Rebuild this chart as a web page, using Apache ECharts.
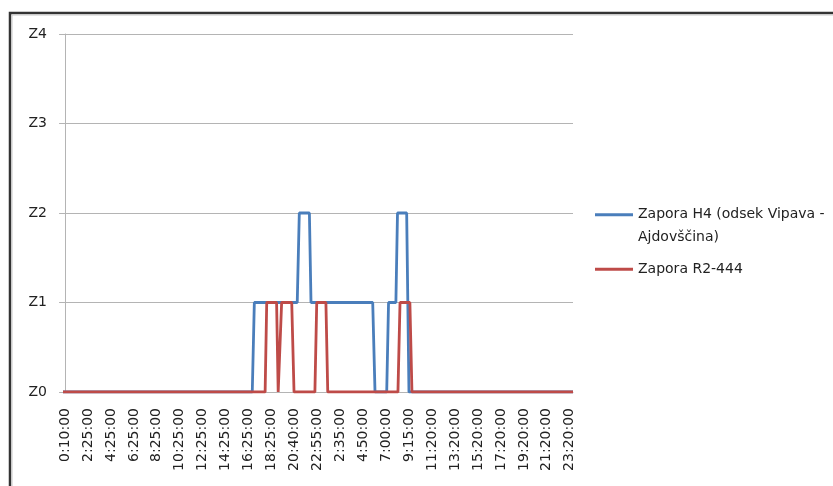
<!DOCTYPE html>
<html>
<head>
<meta charset="utf-8">
<script src="https://cdn.jsdelivr.net/npm/echarts@6/dist/echarts.min.js"></script>
<style>
  html, body { margin: 0; padding: 0; background: #ffffff; }
  #chart { width: 833px; height: 486px; }
</style>
</head>
<body>
<div id="chart"></div>
<script>
// Time labels shown along the bottom axis, one every label step
const tickLabels = ['0:10:00', '2:25:00', '4:25:00', '6:25:00', '8:25:00', '10:25:00',
  '12:25:00', '14:25:00', '16:25:00', '18:25:00', '20:40:00', '22:55:00', '2:35:00',
  '4:50:00', '7:00:00', '9:15:00', '11:20:00', '13:20:00', '15:20:00', '17:20:00',
  '19:20:00', '21:20:00', '23:20:00'];

// Closure levels
const levelLabels = ['Z0', 'Z1', 'Z2', 'Z3', 'Z4'];

const seriesNames = ['Zapora H4 (odsek Vipava - Ajdovščina)', 'Zapora R2-444'];
const legendText = ['Zapora H4 (odsek Vipava -\nAjdovščina)', 'Zapora R2-444'];

// Axis extent, in label steps
const xStart = -0.09;
const xEnd = 22.14;

// [position in label steps, closure level]
const h4Points = [
  [xStart, 0], [8.16, 0], [8.25, 1], [10.12, 1], [10.21, 2], [10.65, 2], [10.72, 1],
  [13.41, 1], [13.51, 0], [14.02, 0], [14.10, 1], [14.42, 1], [14.49, 2], [14.89, 2],
  [14.99, 0], [xEnd, 0]
];

const r2Points = [
  [xStart, 0], [8.72, 0], [8.79, 1], [9.22, 1], [9.29, 0], [9.37, 0], [9.44, 1],
  [9.88, 1], [9.98, 0], [10.89, 0], [10.97, 1], [11.37, 1], [11.45, 0], [14.51, 0],
  [14.60, 1], [15.03, 1], [15.12, 0], [xEnd, 0]
];

const colors = ['#4a7ebb', '#be4b48'];
const font = 'DejaVu Sans';
const gridColor = '#b4b4b4';

const chart = echarts.init(document.getElementById('chart'), null, { renderer: 'canvas' });

const labelSteps = tickLabels.map((_, i) => i);

chart.setOption({
  animation: false,
  backgroundColor: '#ffffff',
  graphic: [
    {
      type: 'polyline',
      silent: true,
      shape: { points: [[10, 490], [10, 13], [840, 13]] },
      style: { stroke: '#333333', lineWidth: 2.5, fill: null }
    },
    {
      type: 'polyline',
      silent: true,
      shape: { points: [[12, 490], [12, 15], [840, 15]] },
      style: { stroke: '#c8c8c8', lineWidth: 1, fill: null }
    }
  ],
  grid: { left: 63, right: 260, top: 34, bottom: 94, containLabel: false },
  legend: [
    {
      data: [seriesNames[0]],
      orient: 'vertical',
      left: 595,
      top: 181,
      padding: 0,
      icon: 'rect',
      itemWidth: 38,
      itemHeight: 3,
      // a blank first line keeps the swatch level with the first line of the wrapped name
      formatter: () => '\n' + legendText[0],
      textStyle: { fontFamily: font, fontSize: 14, color: '#222222', lineHeight: 22.5 }
    },
    {
      data: [seriesNames[1]],
      orient: 'vertical',
      left: 595,
      top: 258,
      padding: 0,
      icon: 'rect',
      itemWidth: 38,
      itemHeight: 3,
      formatter: () => legendText[1],
      textStyle: { fontFamily: font, fontSize: 14, color: '#222222', lineHeight: 22.5 }
    }
  ],
  xAxis: {
    type: 'value',
    min: xStart,
    max: xEnd,
    splitLine: { show: false },
    axisTick: { show: false },
    axisLine: { show: true, onZero: false, lineStyle: { color: gridColor, width: 1 } },
    axisLabel: {
      customValues: labelSteps,
      rotate: 90,
      margin: 16,
      fontFamily: font,
      fontSize: 14,
      color: '#222222',
      formatter: (v) => tickLabels[Math.round(v)]
    }
  },
  yAxis: {
    type: 'value',
    min: 0,
    max: 4,
    interval: 1,
    axisLine: { show: true, lineStyle: { color: gridColor, width: 1 } },
    axisTick: { show: true, length: 6, lineStyle: { color: gridColor } },
    splitLine: { show: true, lineStyle: { color: gridColor, width: 1 } },
    axisLabel: {
      margin: 16,
      fontFamily: font,
      fontSize: 14,
      color: '#222222',
      formatter: (v) => levelLabels[v]
    }
  },
  series: [
    {
      name: seriesNames[0],
      type: 'line',
      data: h4Points,
      showSymbol: false,
      symbol: 'none',
      color: colors[0],
      lineStyle: { color: colors[0], width: 2.8 },
      z: 2
    },
    {
      name: seriesNames[1],
      type: 'line',
      data: r2Points,
      showSymbol: false,
      symbol: 'none',
      color: colors[1],
      lineStyle: { color: colors[1], width: 2.8 },
      z: 3
    }
  ]
});
</script>
</body>
</html>
